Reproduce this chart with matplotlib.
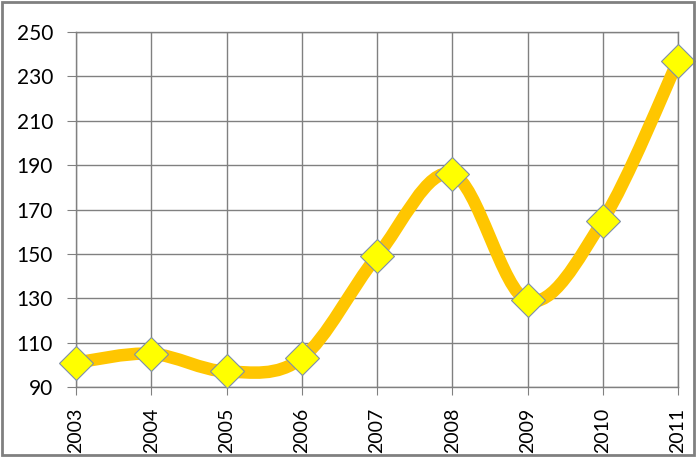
import numpy as np
import matplotlib.pyplot as plt
from matplotlib.path import Path
from matplotlib.patches import PathPatch, Rectangle

years = ["2003", "2004", "2005", "2006", "2007", "2008", "2009", "2010", "2011"]
values = [101, 105, 97, 103, 149, 186, 129, 165, 237]
y_ticks = [90, 110, 130, 150, 170, 190, 210, 230, 250]

plt.rcParams["font.family"] = ["Lato", "DejaVu Sans"]

fig = plt.figure(figsize=(6.97, 4.57), dpi=100)
ax = fig.add_axes([76 / 697, 70 / 457, 602 / 697, 355 / 457])

x = np.arange(len(years), dtype=float)
y = np.array(values, dtype=float)

# Smoothed line (Catmull-Rom style Bezier like Excel's smoothed line)
px = np.concatenate(([x[0]], x, [x[-1]]))
py = np.concatenate(([y[0]], y, [y[-1]]))
verts = [(x[0], y[0])]
codes = [Path.MOVETO]
for i in range(len(x) - 1):
    p0 = np.array([px[i], py[i]])
    p1 = np.array([px[i + 1], py[i + 1]])
    p2 = np.array([px[i + 2], py[i + 2]])
    p3 = np.array([px[i + 3], py[i + 3]])
    c1 = p1 + (p2 - p0) / 6
    c2 = p2 - (p3 - p1) / 6
    verts += [tuple(c1), tuple(c2), tuple(p2)]
    codes += [Path.CURVE4, Path.CURVE4, Path.CURVE4]
curve = PathPatch(Path(verts, codes), facecolor="none", edgecolor="#FFC600",
                  linewidth=9, capstyle="butt", zorder=3, clip_on=False)
ax.add_patch(curve)

ax.plot(x, y, linestyle="none", marker="D", markersize=17,
        markerfacecolor="#FFFF00", markeredgecolor="#7F8FA9",
        markeredgewidth=0.8, zorder=4, clip_on=False)

ax.set_xlim(0, len(years) - 1)
ax.set_ylim(90, 250)
ax.set_xticks(x)
ax.set_xticklabels(years, rotation=90, fontsize=14)
ax.set_yticks(y_ticks)
ax.set_yticklabels([str(t) for t in y_ticks], fontsize=15)
ax.tick_params(axis="y", length=6.5, color="#808080", pad=10)
ax.tick_params(axis="x", length=6, color="#808080", pad=9)
for lab in ax.get_xticklabels():
    lab.set_verticalalignment("top")

ax.grid(True, color="#808080", linewidth=1)
ax.set_axisbelow(True)
for s in ax.spines.values():
    s.set_color("#808080")
    s.set_linewidth(1)

fig.patches.append(Rectangle((2 / 697, 2 / 457), 692 / 697, 453 / 457,
                             transform=fig.transFigure, fill=False,
                             edgecolor="#808080", linewidth=2))

fig.savefig("out.png", dpi=100)
